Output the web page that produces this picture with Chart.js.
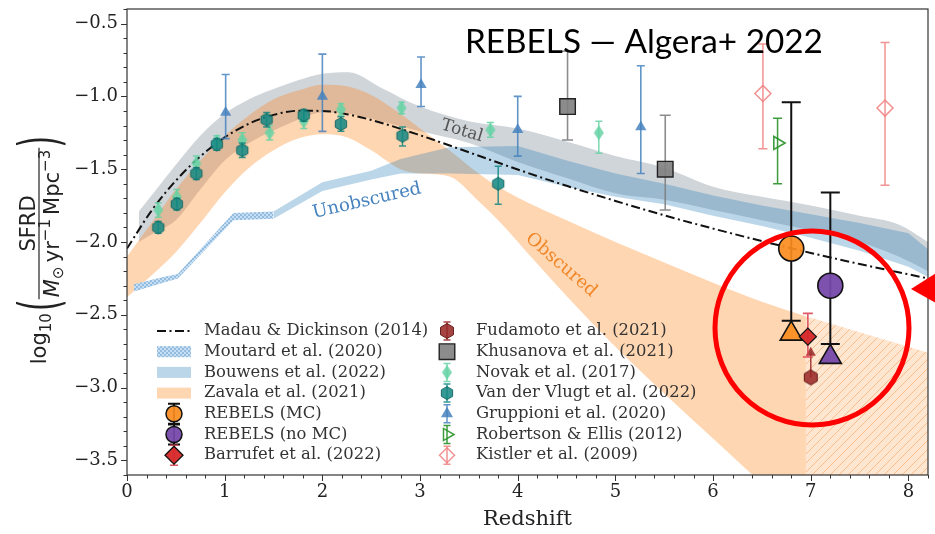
<!DOCTYPE html>
<html>
<head>
<meta charset="utf-8">
<script src="https://cdn.jsdelivr.net/npm/chart.js@4.4.1/dist/chart.umd.min.js"></script>
<style>
html, body { margin: 0; padding: 0; background: #fff; }
#wrap { width: 935px; height: 534px; }
</style>
</head>
<body>
<div id="wrap"><canvas id="c" width="935" height="534"></canvas></div>
<script>
// ---------- axis ticks ----------
const xTicks = [0, 1, 2, 3, 4, 5, 6, 7, 8];
const yTicks = [-3.5, -3.0, -2.5, -2.0, -1.5, -1.0, -0.5];

// ---------- curves and bands (log10 SFRD) ----------
const mdZ    = [0, 0.25, 0.5, 0.75, 1, 1.25, 1.5, 1.75, 2, 2.25, 2.5, 3, 3.5, 4, 4.5, 5, 5.5, 6, 6.5, 7, 7.5, 8, 8.2];
const mdSFRD = [-2.045, -1.786, -1.579, -1.413, -1.282, -1.187, -1.127, -1.099, -1.100, -1.123, -1.162, -1.267, -1.384, -1.502, -1.614, -1.718, -1.817, -1.908, -1.994, -2.075, -2.151, -2.222, -2.250];

const moutardZ  = [0.07, 0.37, 0.52, 1.09, 1.5];
const moutardHi = [-2.29, -2.24, -2.22, -1.80, -1.79];
const moutardLo = [-2.34, -2.28, -2.25, -1.85, -1.84];

const bouwensZ  = [1.5, 2.0, 2.5, 2.8, 3.3, 4.0, 4.5, 5.0, 5.5, 6.0, 6.5, 7.0, 7.5, 8.0, 8.2];
const bouwensHi = [-1.79, -1.59, -1.51, -1.43, -1.35, -1.34, -1.44, -1.53, -1.60, -1.68, -1.75, -1.81, -1.87, -1.94, -2.05];
const bouwensLo = [-1.84, -1.65, -1.57, -1.53, -1.53, -1.54, -1.62, -1.69, -1.74, -1.82, -1.89, -1.97, -2.06, -2.17, -2.24];

const zavalaZ  = [0, 0.25, 0.5, 0.75, 1, 1.25, 1.5, 1.75, 2, 2.25, 2.5, 2.8, 3.0, 3.3, 3.6, 3.8, 4.2, 4.5, 5.0, 5.5, 6.0, 6.5, 6.95];
const zavalaHi = [-2.10, -1.87, -1.64, -1.44, -1.27, -1.13, -1.02, -0.96, -0.92, -0.93, -0.99, -1.12, -1.22, -1.37, -1.53, -1.62, -1.76, -1.85, -2.00, -2.14, -2.28, -2.41, -2.51];
const zavalaLo = [-2.38, -2.23, -2.07, -1.87, -1.66, -1.49, -1.37, -1.29, -1.26, -1.28, -1.37, -1.50, -1.53, -1.55, -1.72, -1.85, -2.15, -2.37, -2.72, -3.04, -3.35, -3.66, -3.94];

const zavalaExtZ  = [6.95, 7.5, 8.0, 8.2];
const zavalaExtHi = [-2.51, -2.62, -2.72, -2.76];
const zavalaExtLo = [-3.94, -4.28, -4.60, -4.72];

const totalZ  = [0.12, 0.3, 0.5, 0.75, 1, 1.25, 1.5, 1.75, 2, 2.27, 2.6, 3, 3.5, 4, 4.5, 5, 5.5, 6, 6.5, 7, 7.5, 7.9, 8.2];
const totalHi = [-1.79, -1.64, -1.47, -1.27, -1.12, -1.02, -0.95, -0.89, -0.845, -0.835, -0.94, -1.07, -1.17, -1.22, -1.31, -1.41, -1.49, -1.62, -1.69, -1.75, -1.82, -1.88, -2.00];
const totalLo = [-2.00, -1.93, -1.85, -1.64, -1.44, -1.32, -1.235, -1.16, -1.11, -1.12, -1.17, -1.24, -1.32, -1.45, -1.56, -1.665, -1.71, -1.78, -1.85, -1.92, -2.00, -2.10, -2.20];

// ---------- measurements ----------
const gruppioniZ  = [1.01, 2.0, 3.01, 4.0, 5.26];
const gruppioniV  = [-1.11, -1.00, -0.92, -1.23, -1.21];
const gruppioniLo = [-1.29, -1.24, -1.07, -1.41, -1.53];
const gruppioniHi = [-0.85, -0.71, -0.73, -1.00, -0.79];

const khusanovaZ  = [4.51, 5.51];
const khusanovaV  = [-1.07, -1.50];
const khusanovaLo = [-1.30, -1.78];
const khusanovaHi = [-0.69, -1.13];

const novakZ  = [0.32, 0.51, 0.71, 0.92, 1.18, 1.46, 1.81, 2.19, 2.81, 3.72, 4.83];
const novakV  = [-1.78, -1.69, -1.46, -1.31, -1.30, -1.25, -1.17, -1.09, -1.08, -1.23, -1.25];
const novakLo = [-1.83, -1.74, -1.51, -1.35, -1.35, -1.30, -1.22, -1.13, -1.12, -1.28, -1.39];
const novakHi = [-1.73, -1.64, -1.41, -1.27, -1.25, -1.20, -1.12, -1.05, -1.04, -1.18, -1.17];

const vdvZ  = [0.32, 0.51, 0.71, 0.92, 1.18, 1.43, 1.81, 2.19, 2.82, 3.80];
const vdvV  = [-1.90, -1.74, -1.53, -1.33, -1.37, -1.16, -1.13, -1.19, -1.27, -1.60];
const vdvLo = [-1.94, -1.78, -1.57, -1.37, -1.42, -1.21, -1.17, -1.24, -1.34, -1.74];
const vdvHi = [-1.86, -1.70, -1.49, -1.29, -1.32, -1.11, -1.09, -1.14, -1.21, -1.48];

const kistlerZ  = [6.51, 7.76];
const kistlerV  = [-0.98, -1.08];
const kistlerLo = [-1.36, -1.61];
const kistlerHi = [-0.64, -0.63];

const robertsonZ  = [6.66];
const robertsonV  = [-1.32];
const robertsonLo = [-1.60];
const robertsonHi = [-1.15];

const rebelsMCZ  = [6.80];
const rebelsMCV  = [-2.045];
const rebelsMCLo = [-2.54];
const rebelsMCHi = [-1.04];
const rebelsMCObscuredV = [-2.63];

const rebelsNoMCZ  = [7.20];
const rebelsNoMCV  = [-2.30];
const rebelsNoMCLo = [-2.70];
const rebelsNoMCHi = [-1.66];
const rebelsNoMCObscuredV = [-2.79];

const barrufetZ  = [6.97];
const barrufetV  = [-2.65];
const barrufetLo = [-2.79];
const barrufetHi = [-2.49];

const fudamotoZ     = [7.0];
const fudamotoV     = [-2.93];
const fudamotoLimit = [-2.72];

// ---------- legend text ----------
const legendCol1 = ['Madau & Dickinson (2014)', 'Moutard et al. (2020)', 'Bouwens et al. (2022)', 'Zavala et al. (2021)', 'REBELS (MC)', 'REBELS (no MC)', 'Barrufet et al. (2022)'];
const legendCol2 = ['Fudamoto et al. (2021)', 'Khusanova et al. (2021)', 'Novak et al. (2017)', 'Van der Vlugt et al. (2022)', 'Gruppioni et al. (2020)', 'Robertson & Ellis (2012)', 'Kistler et al. (2009)'];

// ---------- colours ----------
const cTotal   = 'rgba(112,128,144,0.33)';
const cBouwens = 'rgba(31,119,180,0.30)';
const cZavala  = 'rgba(255,127,14,0.32)';
const cOrange  = 'rgba(250,140,30,0.92)';
const cPurple  = 'rgba(118,72,170,0.95)';
const cGrupp   = 'rgba(70,130,190,0.85)';
const cNovak   = 'rgba(102,210,165,0.85)';
const cVdv     = 'rgba(20,135,130,0.85)';
const cKistler = 'rgba(240,128,128,0.85)';
const cRob     = 'rgba(40,145,40,0.9)';
const cBarr    = 'rgba(214,39,40,0.95)';
const cFuda    = 'rgba(150,35,35,0.85)';
const cKhus    = 'rgba(128,128,128,0.9)';

// ---------- plot box (pixels) ----------
const BOX = { left: 127, top: 9, right: 928, bottom: 475 };

// ---------- marker shapes ----------
function hexagonStyle(r, fill, stroke, lw) {
  const size = 2 * Math.ceil(r + lw + 1);
  const cv = document.createElement('canvas');
  cv.width = size; cv.height = size;
  const g = cv.getContext('2d');
  const c = size / 2;
  g.beginPath();
  for (let k = 0; k < 6; k++) {
    const a = -Math.PI / 2 + k * Math.PI / 3;
    const px = c + r * Math.cos(a), py = c + r * Math.sin(a);
    if (k) g.lineTo(px, py); else g.moveTo(px, py);
  }
  g.closePath();
  g.fillStyle = fill; g.fill();
  if (lw > 0) { g.lineWidth = lw; g.strokeStyle = stroke; g.stroke(); }
  return cv;
}
function thinDiamondStyle(h, w, fill) {
  const W = 2 * Math.ceil(w / 2 + 1), H = 2 * Math.ceil(h / 2 + 1);
  const cv = document.createElement('canvas');
  cv.width = W; cv.height = H;
  const g = cv.getContext('2d');
  g.beginPath();
  g.moveTo(W / 2, H / 2 - h / 2); g.lineTo(W / 2 + w / 2, H / 2);
  g.lineTo(W / 2, H / 2 + h / 2); g.lineTo(W / 2 - w / 2, H / 2);
  g.closePath();
  g.fillStyle = fill; g.fill();
  return cv;
}
function hatchPattern() {
  const cv = document.createElement('canvas');
  cv.width = 9; cv.height = 9;
  const g = cv.getContext('2d');
  g.fillStyle = 'rgba(255,140,40,0.22)';
  g.fillRect(0, 0, 9, 9);
  g.strokeStyle = 'rgba(240,140,60,0.45)';
  g.lineWidth = 1;
  g.beginPath();
  g.moveTo(-1, 10); g.lineTo(10, -1);
  g.moveTo(-1, 1); g.lineTo(1, -1);
  g.moveTo(8, 10); g.lineTo(10, 8);
  g.stroke();
  return g.createPattern(cv, 'repeat');
}
function crossPattern() {
  const cv = document.createElement('canvas');
  cv.width = 4; cv.height = 4;
  const g = cv.getContext('2d');
  g.fillStyle = 'rgb(146,188,224)';
  g.fillRect(0, 0, 4, 4);
  g.fillStyle = 'rgb(200,222,242)';
  g.fillRect(0, 0, 2, 2); g.fillRect(2, 2, 2, 2);
  return g.createPattern(cv, 'repeat');
}

const hexVdv  = hexagonStyle(6.5, cVdv, 'rgba(10,100,95,0.9)', 1);
const hexFuda = hexagonStyle(7.5, cFuda, 'rgba(90,20,20,0.9)', 1);
const dNovak  = thinDiamondStyle(15, 10, cNovak);
const patHatch = hatchPattern();
const patCross = crossPattern();

// ---------- datasets ----------
const pts = (z, v) => z.map((x, i) => ({ x: x, y: v[i] }));
const datasets = [];

function addBand(z, hi, lo, color, order, smooth) {
  const common = { type: 'line', borderColor: 'rgba(0,0,0,0)', borderWidth: 0, pointRadius: 0,
                   order: order, tension: 0, cubicInterpolationMode: smooth ? 'monotone' : 'default' };
  datasets.push(Object.assign({}, common, { data: pts(z, hi), fill: '+1', backgroundColor: color }));
  datasets.push(Object.assign({}, common, { data: pts(z, lo), fill: false }));
}
addBand(totalZ, totalHi, totalLo, cTotal, 30, true);
addBand(zavalaZ, zavalaHi, zavalaLo, cZavala, 29, true);
addBand(zavalaExtZ, zavalaExtHi, zavalaExtLo, patHatch, 28, false);
addBand(moutardZ, moutardHi, moutardLo, patCross, 27, false);
addBand(bouwensZ, bouwensHi, bouwensLo, cBouwens, 26, false);

datasets.push({
  type: 'line', data: pts(mdZ, mdSFRD), borderColor: '#111', borderWidth: 2,
  borderDash: [9, 3.5, 2, 3.5], pointRadius: 0, fill: false, order: 20,
  cubicInterpolationMode: 'monotone'
});

function addPoints(z, v, opt, order) {
  datasets.push(Object.assign({ type: 'scatter', data: pts(z, v), order: order, showLine: false }, opt));
}
addPoints(gruppioniZ, gruppioniV, { pointStyle: 'triangle', pointRadius: 6.5, pointBackgroundColor: cGrupp, pointBorderWidth: 0,
  errLo: gruppioniLo, errHi: gruppioniHi, errColor: cGrupp, errWidth: 1.6, errCap: 8 }, 12);
addPoints(khusanovaZ, khusanovaV, { pointStyle: 'rect', pointRadius: 11, pointBackgroundColor: cKhus, pointBorderColor: '#222', pointBorderWidth: 1.4,
  errLo: khusanovaLo, errHi: khusanovaHi, errColor: 'rgba(128,128,128,0.9)', errWidth: 1.6, errCap: 11 }, 12);
addPoints(novakZ, novakV, { pointStyle: dNovak, pointRadius: 7,
  errLo: novakLo, errHi: novakHi, errColor: cNovak, errWidth: 1.5, errCap: 7 }, 12);
addPoints(vdvZ, vdvV, { pointStyle: hexVdv, pointRadius: 7,
  errLo: vdvLo, errHi: vdvHi, errColor: cVdv, errWidth: 1.5, errCap: 7 }, 11);
addPoints(kistlerZ, kistlerV, { pointStyle: 'rectRot', pointRadius: 8, pointBackgroundColor: 'rgba(0,0,0,0)', pointBorderColor: cKistler, pointBorderWidth: 1.6,
  errLo: kistlerLo, errHi: kistlerHi, errColor: cKistler, errWidth: 1.5, errCap: 9 }, 12);
addPoints(robertsonZ, robertsonV, { pointStyle: 'triangle', pointRotation: 90, pointRadius: 7.5, pointBackgroundColor: 'rgba(0,0,0,0)', pointBorderColor: cRob, pointBorderWidth: 1.6,
  errLo: robertsonLo, errHi: robertsonHi, errColor: cRob, errWidth: 1.5, errCap: 9 }, 12);
addPoints(fudamotoZ, fudamotoV, { pointStyle: hexFuda, pointRadius: 8, limitTo: fudamotoLimit, errColor: cFuda }, 9);
addPoints(rebelsMCZ, rebelsMCObscuredV, { pointStyle: 'triangle', pointRadius: 12.7, pointBackgroundColor: cOrange, pointBorderColor: '#111', pointBorderWidth: 1.6 }, 8);
addPoints(rebelsNoMCZ, rebelsNoMCObscuredV, { pointStyle: 'triangle', pointRadius: 12.7, pointBackgroundColor: cPurple, pointBorderColor: '#111', pointBorderWidth: 1.6 }, 8);
addPoints(barrufetZ, barrufetV, { pointStyle: 'rectRot', pointRadius: 8.5, pointBackgroundColor: cBarr, pointBorderColor: '#111', pointBorderWidth: 1.3,
  errLo: barrufetLo, errHi: barrufetHi, errColor: 'rgba(220,70,85,0.9)', errWidth: 1.6, errCap: 10 }, 6);
addPoints(rebelsMCZ, rebelsMCV, { pointStyle: 'circle', pointRadius: 12.5, pointBackgroundColor: cOrange, pointBorderColor: '#111', pointBorderWidth: 1.6,
  errLo: rebelsMCLo, errHi: rebelsMCHi, errColor: '#111', errWidth: 2, errCap: 19 }, 5);
addPoints(rebelsNoMCZ, rebelsNoMCV, { pointStyle: 'circle', pointRadius: 12.5, pointBackgroundColor: cPurple, pointBorderColor: '#111', pointBorderWidth: 1.6,
  errLo: rebelsNoMCLo, errHi: rebelsNoMCHi, errColor: '#111', errWidth: 2, errCap: 19 }, 5);

// ---------- plugins ----------
const whiteBg = {
  id: 'whiteBg',
  beforeDraw(chart) {
    const c = chart.ctx;
    c.save(); c.fillStyle = '#fff'; c.fillRect(0, 0, chart.width, chart.height); c.restore();
  }
};

// pin the plot box to fixed pixel edges after Chart.js has laid out the scales
const fixedBox = {
  id: 'fixedBox',
  afterLayout(chart) {
    const ca = chart.chartArea;
    ca.left = BOX.left; ca.top = BOX.top; ca.right = BOX.right; ca.bottom = BOX.bottom;
    ca.width = BOX.right - BOX.left; ca.height = BOX.bottom - BOX.top;
    const xs = chart.scales.x, ys = chart.scales.y;
    xs.left = BOX.left; xs.right = BOX.right; xs.width = BOX.right - BOX.left;
    xs.top = BOX.bottom; xs.bottom = chart.height; xs.height = chart.height - BOX.bottom;
    ys.left = 0; ys.right = BOX.left; ys.width = BOX.left;
    ys.top = BOX.top; ys.bottom = BOX.bottom; ys.height = BOX.bottom - BOX.top;
    xs.configure(); ys.configure();
  }
};

// vertical error bars and lower-limit arrows, drawn just beneath each marker set
const errorBars = {
  id: 'errorBars',
  beforeDatasetDraw(chart, args) {
    const d = chart.data.datasets[args.index];
    if (!d.errLo && !d.limitTo) return;
    const c = chart.ctx, xs = chart.scales.x, ys = chart.scales.y, a = chart.chartArea;
    c.save();
    c.beginPath(); c.rect(a.left, a.top, a.right - a.left, a.bottom - a.top); c.clip();
    c.strokeStyle = d.errColor; c.fillStyle = d.errColor;
    d.data.forEach((p, i) => {
      const px = xs.getPixelForValue(p.x);
      if (d.errLo) {
        const y1 = ys.getPixelForValue(d.errLo[i]), y2 = ys.getPixelForValue(d.errHi[i]);
        c.lineWidth = d.errWidth;
        c.beginPath();
        c.moveTo(px, y1); c.lineTo(px, y2);
        c.moveTo(px - d.errCap / 2, y1); c.lineTo(px + d.errCap / 2, y1);
        c.moveTo(px - d.errCap / 2, y2); c.lineTo(px + d.errCap / 2, y2);
        c.stroke();
      }
      if (d.limitTo) {
        const y0 = ys.getPixelForValue(p.y), y1 = ys.getPixelForValue(d.limitTo[i]);
        c.lineWidth = 1.5;
        c.beginPath(); c.moveTo(px, y0); c.lineTo(px, y1 + 6); c.stroke();
        c.beginPath(); c.moveTo(px, y1); c.lineTo(px - 5, y1 + 9); c.lineTo(px + 5, y1 + 9); c.closePath(); c.fill();
      }
    });
    c.restore();
  }
};

function drawMarker(c, x, y, style, radius, fill, stroke, lw, rotation) {
  c.save();
  c.fillStyle = fill; c.strokeStyle = stroke || 'rgba(0,0,0,0)'; c.lineWidth = lw || 0;
  Chart.helpers.drawPoint(c, { pointStyle: style, radius: radius, rotation: rotation || 0, borderWidth: lw || 0 }, x, y);
  c.restore();
}
function drawVBar(c, x, y, half, cap, color, lw) {
  c.save();
  c.strokeStyle = color; c.lineWidth = lw;
  c.beginPath();
  c.moveTo(x, y - half); c.lineTo(x, y + half);
  c.moveTo(x - cap / 2, y - half); c.lineTo(x + cap / 2, y - half);
  c.moveTo(x - cap / 2, y + half); c.lineTo(x + cap / 2, y + half);
  c.stroke();
  c.restore();
}

function drawLegend(c) {
  const row0 = 331, dy = 20.7;
  const h1 = 174, t1 = 204, h2 = 447, t2 = 476;
  c.save();
  c.font = '16.4px "DejaVu Serif"';
  c.fillStyle = '#333';
  c.textBaseline = 'middle';
  c.textAlign = 'left';
  legendCol1.forEach((s, i) => c.fillText(s, t1, row0 + i * dy));
  legendCol2.forEach((s, i) => c.fillText(s, t2, row0 + i * dy));
  c.restore();

  // column 1 handles
  let y = row0;
  c.save();
  c.strokeStyle = '#111'; c.lineWidth = 2; c.setLineDash([9, 3.5, 2, 3.5]);
  c.beginPath(); c.moveTo(h1 - 17, y); c.lineTo(h1 + 17, y); c.stroke();
  c.restore();
  y += dy;
  c.save(); c.fillStyle = patCross; c.fillRect(h1 - 17, y - 5.5, 34, 11); c.restore();
  y += dy;
  c.save(); c.fillStyle = cBouwens; c.fillRect(h1 - 17, y - 5.5, 34, 11); c.restore();
  y += dy;
  c.save(); c.fillStyle = cZavala; c.fillRect(h1 - 17, y - 5.5, 34, 11); c.restore();
  y += dy;
  drawVBar(c, h1, y, 10, 12, '#111', 2);
  drawMarker(c, h1, y, 'circle', 8, cOrange, '#111', 1.5);
  y += dy;
  drawVBar(c, h1, y, 10, 12, '#111', 2);
  drawMarker(c, h1, y, 'circle', 8, cPurple, '#111', 1.5);
  y += dy;
  drawVBar(c, h1, y, 10, 8, 'rgba(220,70,85,0.9)', 1.5);
  drawMarker(c, h1, y, 'rectRot', 9, cBarr, '#111', 1.3);

  // column 2 handles
  y = row0;
  drawVBar(c, h2, y, 9, 7, cFuda, 1.5);
  drawMarker(c, h2, y, hexFuda, 8, cFuda);
  y += dy;
  drawMarker(c, h2, y, 'rect', 11, cKhus, '#222', 1.4);
  y += dy;
  drawVBar(c, h2, y, 9, 7, cNovak, 1.5);
  drawMarker(c, h2, y, dNovak, 7, cNovak);
  y += dy;
  drawVBar(c, h2, y, 9, 7, cVdv, 1.5);
  drawMarker(c, h2, y, hexVdv, 7, cVdv);
  y += dy;
  drawVBar(c, h2, y, 9, 7, cGrupp, 1.5);
  drawMarker(c, h2, y, 'triangle', 7, cGrupp);
  y += dy;
  drawVBar(c, h2, y, 9, 7, cRob, 1.5);
  drawMarker(c, h2, y, 'triangle', 7, 'rgba(0,0,0,0)', cRob, 1.5, 90);
  y += dy;
  drawVBar(c, h2, y, 9, 7, cKistler, 1.5);
  drawMarker(c, h2, y, 'rectRot', 7.5, 'rgba(0,0,0,0)', cKistler, 1.5);
}

function drawRotatedText(c, text, x, y, deg, font, color) {
  c.save();
  c.translate(x, y); c.rotate(deg * Math.PI / 180);
  c.font = font; c.fillStyle = color;
  c.textAlign = 'center'; c.textBaseline = 'middle';
  c.fillText(text, 0, 0);
  c.restore();
}

function drawYTitle(c) {
  const main = 21, script = 15;
  const F = s => s + 'px "DejaVu Sans"';
  const FI = s => 'oblique ' + s + 'px "DejaVu Sans"';
  c.save();
  c.translate(46, 250);
  c.rotate(-Math.PI / 2);
  c.fillStyle = '#222';
  c.strokeStyle = '#222';
  c.textBaseline = 'alphabetic';
  c.textAlign = 'left';
  const width = (t, f) => { c.font = f; return c.measureText(t).width; };
  const den = [['M', FI(main), 0], ['\u2299', F(script), 4], ['\u2009yr', F(main), 0], ['\u22121', F(script), -9],
               ['\u2009Mpc', F(main), 0], ['\u22123', F(script), -9]];
  let denW = 0;
  den.forEach(p => { denW += width(p[0], p[1]); });
  const numW = width('SFRD', F(main));
  const fracW = Math.max(denW, numW) + 4;
  const logW = width('log', F(main)), subW = width('10', F(script));
  const parenW = 12;
  const total = logW + subW + 2 + parenW + fracW + parenW;
  let x = -total / 2;
  c.font = F(main); c.fillText('log', x, 0); x += logW;
  c.font = F(script); c.fillText('10', x, 5); x += subW + 2;
  // opening parenthesis
  c.save(); c.translate(x, 12); c.scale(0.55, 1); c.font = F(56); c.fillText('(', 0, 0); c.restore();
  x += parenW;
  // fraction
  const barY = -7;
  c.font = F(main); c.fillText('SFRD', x + (fracW - numW) / 2, barY - 4.5);
  c.lineWidth = 1.2;
  c.beginPath(); c.moveTo(x, barY); c.lineTo(x + fracW, barY); c.stroke();
  let dx = x + (fracW - denW) / 2;
  den.forEach(p => { c.font = p[1]; c.fillText(p[0], dx, 13 + p[2]); dx += c.measureText(p[0]).width; });
  x += fracW;
  c.save(); c.translate(x, 12); c.scale(0.55, 1); c.font = F(56); c.fillText(')', 0, 0); c.restore();
  c.restore();
}

const decorations = {
  id: 'decorations',
  afterDatasetsDraw(chart) {
    const c = chart.ctx, a = chart.chartArea, xs = chart.scales.x, ys = chart.scales.y;

    // band annotations
    drawRotatedText(c, 'Total', 462, 131, 17, '17px "DejaVu Serif"', 'rgba(70,70,70,0.9)');
    drawRotatedText(c, 'Unobscured', 367, 201, -13, '18px "DejaVu Serif"', 'rgb(70,130,190)');
    drawRotatedText(c, 'Obscured', 561, 265, 41, '18px "DejaVu Serif"', 'rgb(240,135,40)');

    drawLegend(c);

    // frame and outward ticks
    c.save();
    c.strokeStyle = '#333'; c.lineWidth = 1.2;
    c.strokeRect(a.left, a.top, a.right - a.left, a.bottom - a.top);
    c.lineWidth = 1;
    c.beginPath();
    for (let k = 0; k <= 41; k++) {
      const v = k * 0.2;
      if (v > xs.max + 1e-9) break;
      const px = Math.round(xs.getPixelForValue(v)) + 0.5;
      const major = k % 5 === 0;
      c.moveTo(px, a.bottom); c.lineTo(px, a.bottom + (major ? 6 : 3.5));
    }
    for (let k = -36; k <= -4; k++) {
      const v = k * 0.1;
      const py = Math.round(ys.getPixelForValue(v)) + 0.5;
      const major = k % 5 === 0;
      c.moveTo(a.left, py); c.lineTo(a.left - (major ? 6 : 3.5), py);
    }
    c.stroke();
    c.restore();

    // axis titles
    c.save();
    c.font = '21px "DejaVu Serif"'; c.fillStyle = '#222';
    c.textAlign = 'center'; c.textBaseline = 'middle';
    c.fillText('Redshift', (a.left + a.right) / 2, 520);
    c.restore();
    drawYTitle(c);
  },
  afterDraw(chart) {
    const c = chart.ctx;
    // heading
    c.save();
    const title = 'REBELS \u2014 Algera+ 2022';
    c.font = '30px Lato';
    const w = c.measureText(title).width;
    const fs = 30 * 358 / w;
    c.font = fs.toFixed(2) + 'px Lato';
    c.fillStyle = '#000'; c.textBaseline = 'alphabetic'; c.textAlign = 'left';
    c.fillText(title, 465, 53);
    c.restore();

    // red highlight around the REBELS points
    c.save();
    c.strokeStyle = '#f00'; c.lineWidth = 5;
    c.beginPath(); c.ellipse(812, 328, 97, 97, 0, 0, Math.PI * 2); c.stroke();
    c.fillStyle = '#f00';
    c.beginPath(); c.moveTo(911, 289); c.lineTo(936, 273); c.lineTo(936, 303); c.closePath(); c.fill();
    c.restore();
  }
};

// ---------- chart ----------
new Chart(document.getElementById('c'), {
  type: 'scatter',
  data: { datasets: datasets },
  options: {
    responsive: false,
    animation: false,
    devicePixelRatio: 1,
    events: [],
    layout: { padding: { top: 9, right: 7, left: 0, bottom: 0 } },
    plugins: { legend: { display: false }, tooltip: { enabled: false }, title: { display: false } },
    scales: {
      x: {
        type: 'linear', min: 0, max: 8.2,
        afterFit: s => { s.height = 59; },
        afterBuildTicks: s => { s.ticks = xTicks.map(v => ({ value: v })); },
        grid: { display: false, drawTicks: false, tickLength: 0 },
        border: { display: false },
        ticks: { font: { family: 'DejaVu Serif', size: 18 }, color: '#222', padding: 7, maxRotation: 0,
                 callback: v => String(v) }
      },
      y: {
        type: 'linear', min: -3.6, max: -0.4,
        afterFit: s => { s.width = 127; },
        afterBuildTicks: s => { s.ticks = yTicks.map(v => ({ value: v })); },
        grid: { display: false, drawTicks: false, tickLength: 0 },
        border: { display: false },
        ticks: { font: { family: 'DejaVu Serif', size: 18 }, color: '#222', padding: 9,
                 callback: v => v.toFixed(1).replace('-', '\u2212') }
      }
    }
  },
  plugins: [whiteBg, fixedBox, errorBars, decorations]
});
</script>
</body>
</html>
